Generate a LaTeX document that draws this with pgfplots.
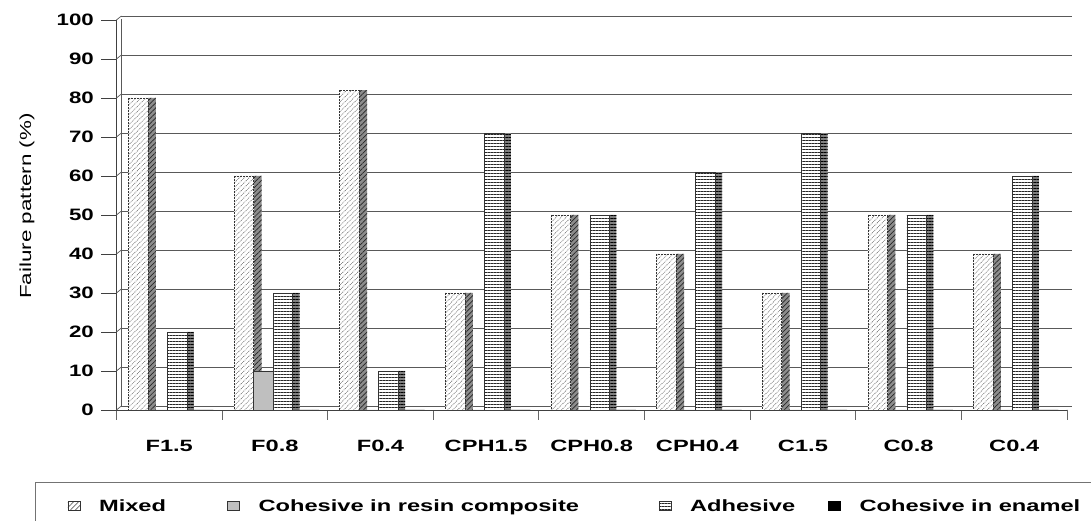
\documentclass[border=0pt]{standalone}
\usepackage{fontspec}
\setmainfont{Liberation Sans}
\usepackage{graphicx}
\usepackage{pgfplots}
\pgfplotsset{compat=1.18}
\usepackage{pgfplotstable}
\usetikzlibrary{patterns.meta}

% the original text is drawn wide, so stretch it sideways
\newcommand\sx[1]{\scalebox{1.45}[1]{#1}}
\newcommand\sy[1]{\scalebox{1.35}[1]{#1}}

% failure pattern (%) per group
\pgfplotstableread{
idx mixed resin adhesive enamel
0   80    0     20       0
1   60    10    30       0
2   82    0     10       0
3   30    0     71       0
4   50    0     50       0
5   40    0     61       0
6   30    0     71       0
7   50    0     50       0
8   40    0     60       0
}\failure

\tikzset{
  mixfront/.style={fill=white, draw=black!80, densely dotted, line width=0.5pt,
    postaction={pattern={Lines[angle=45,distance=3.5pt,line width=0.7pt]}, pattern color=black!60}},
  mixside/.style={fill=black!45, draw=none,
    postaction={pattern={Lines[angle=45,distance=3.5pt,line width=0.7pt]}, pattern color=black!85}},
  resfront/.style={fill=black!25, draw=black!80, line width=0.5pt},
  resside/.style={fill=black!55, draw=none},
  adhfront/.style={fill=white, draw=black!80, line width=0.5pt,
    postaction={pattern={Lines[angle=0,distance=3pt,line width=0.6pt]}, pattern color=black!85}},
  adhside/.style={fill=black!50, draw=none,
    postaction={pattern={Lines[angle=0,distance=3pt,line width=0.6pt]}, pattern color=black}},
  enafront/.style={fill=black, draw=black, line width=0.5pt},
  enaside/.style={fill=black, draw=none},
}

\begin{document}
\begin{tikzpicture}
\useasboundingbox (0,0) rectangle (1091pt,521pt);
\clip (0,0) rectangle (1091pt,521pt);
\begin{axis}[
    at={(116.4pt,111pt)}, anchor=south west,
    scale only axis, width=950.6pt, height=390pt,
    xmin=-0.5, xmax=8.5, ymin=0, ymax=100,
    axis x line*=bottom, axis y line*=left,
    axis line style={black!75, line width=0.8pt},
    tick align=outside,
    major tick length=15pt, minor tick length=10pt,
    ytick={0,10,...,100},
    yticklabels={\sy{0},\sy{10},\sy{20},\sy{30},\sy{40},\sy{50},\sy{60},\sy{70},\sy{80},\sy{90},\sy{100}},
    xtick={0,...,8},
    xticklabels={\sx{F1.5},\sx{F0.8},\sx{F0.4},\sx{CPH1.5},\sx{CPH0.8},\sx{CPH0.4},\sx{C1.5},\sx{C0.8},\sx{C0.4}},
    minor xtick={-0.5,0.5,...,8.5},
    major x tick style={draw=none},
    minor x tick style={black!60, line width=0.8pt},
    ytick style={black!75, line width=0.8pt},
    ymajorgrids,
    major grid style={black!65, line width=0.7pt, xshift=5pt, yshift=4pt},
    yticklabel style={font=\fontsize{16.5}{18}\selectfont\bfseries, anchor=east, xshift=-4pt},
    xticklabel style={font=\fontsize{16.3}{18}\selectfont\bfseries, anchor=base, yshift=-26pt},
    ylabel={\scalebox{1.4}[1]{Failure pattern (\%)}},
    every axis y label/.style={at={(axis description cs:0,0.523)}, xshift=-89.4pt, rotate=90,
      anchor=center, font=\fontsize{16}{18}\selectfont},
    legend columns=4,
    legend cell align=left,
    legend style={at={(axis description cs:0,0)}, anchor=west, xshift=-49pt, yshift=-96pt,
      draw=none, fill=none, inner sep=0pt,
      font=\fontsize{16.3}{18}\selectfont\bfseries,
      /tikz/every odd column/.append style={column sep=17pt},
      /tikz/every even column/.append style={column sep=0pt}},
    legend image code/.code={\draw[#1, solid] (0pt,-4.5pt) rectangle (12pt,4.5pt);},
]
% side faces first, so the next bar hides them
\addplot[ybar, bar width=8pt, bar shift=-17.25pt, mixside, forget plot] table[x=idx, y=mixed] {\failure};
\addplot[ybar, bar width=8pt, bar shift=2.25pt, resside, forget plot] table[x=idx, y=resin] {\failure};
\addplot[ybar, bar width=7pt, bar shift=21.25pt, adhside, forget plot] table[x=idx, y=adhesive] {\failure};
\addplot[ybar, bar width=7pt, bar shift=40.75pt, enaside, forget plot] table[x=idx, y=enamel] {\failure};
% front faces
\addplot[ybar, bar width=19.5pt, bar shift=-31pt, mixfront] table[x=idx, y=mixed] {\failure};
\addplot[ybar, bar width=19.5pt, bar shift=-11.5pt, resfront] table[x=idx, y=resin] {\failure};
\addplot[ybar, bar width=19.5pt, bar shift=8pt, adhfront] table[x=idx, y=adhesive] {\failure};
\addplot[ybar, bar width=19.5pt, bar shift=27.5pt, enafront] table[x=idx, y=enamel] {\failure};
\legend{\makebox[126pt][l]{\sx{Mixed}},
        \makebox[398pt][l]{\sx{Cohesive in resin composite}},
        \makebox[136pt][l]{\sx{Adhesive}},
        \sx{Cohesive in enamel}}
% back wall edges
\draw[black!65, line width=0.7pt, shift={(5pt,4pt)}] (axis cs:-0.5,0) -- (axis cs:-0.5,100);
\draw[black!65, line width=0.7pt, shift={(5pt,4pt)}] (axis cs:8.5,0) -- (axis cs:8.5,100);
\draw[black!65, line width=0.7pt] (axis cs:8.5,0) -- ++(5pt,4pt);
\end{axis}
% joins from the front axis to the back wall
\foreach \v in {0,...,10}
  \draw[black!65, line width=0.7pt] (116.4pt,111pt+\v*39pt) -- ++(5pt,4pt);
% legend frame
\draw[black!55, line width=0.8pt] (35pt,-5pt) -- (35pt,39pt) -- (1100pt,39pt);
\end{tikzpicture}
\end{document}
